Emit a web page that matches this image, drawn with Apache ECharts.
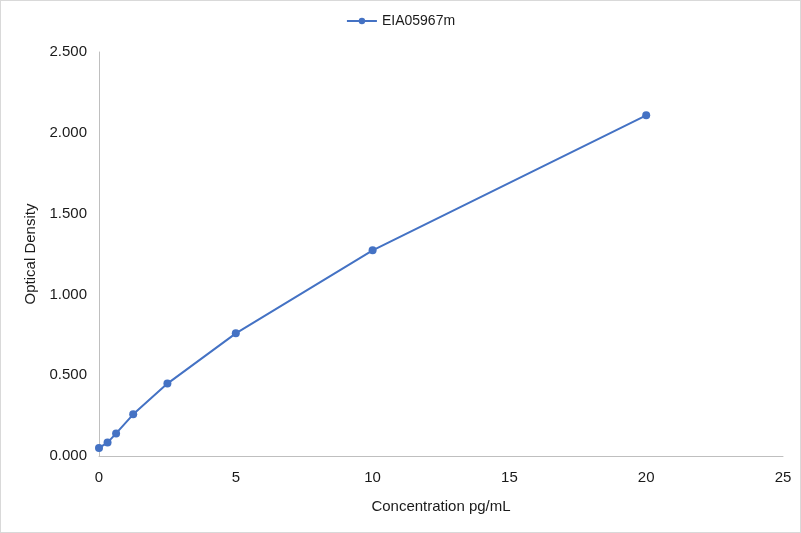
<!DOCTYPE html>
<html>
<head>
<meta charset="utf-8">
<script src="https://cdn.jsdelivr.net/npm/echarts@6/dist/echarts.min.js"></script>
<style>
  html, body { margin: 0; padding: 0; background: #fff; }
  #chart { width: 799px; height: 531px; border: 1px solid #d9d9d9; }
</style>
</head>
<body>
<div id="chart"></div>
<script>
// standard curve readings
var seriesName = "EIA05967m";
var concentration = [0, 0.3125, 0.625, 1.25, 2.5, 5, 10, 20];
var density = [0.050, 0.083, 0.140, 0.258, 0.448, 0.759, 1.273, 2.108];

var points = concentration.map(function (c, i) { return [c, density[i]]; });
var font = "'Liberation Sans', Arial, sans-serif";

var chart = echarts.init(document.getElementById("chart"));
chart.setOption({
    animation: false,
    textStyle: { fontFamily: font },
    legend: {
        top: 8,
        left: "center",
        itemWidth: 30,
        itemHeight: 8,
        textStyle: { fontSize: 14, color: "#1a1a1a", fontFamily: font },
        data: [seriesName]
    },
    grid: { left: 98, right: 17, top: 51, bottom: 76 },
    xAxis: {
        type: "value",
        min: 0, max: 25, interval: 5,
        name: "Concentration pg/mL",
        nameLocation: "middle",
        nameGap: 43,
        nameTextStyle: { fontSize: 15, color: "#1a1a1a", fontFamily: font },
        axisLine: { show: true, lineStyle: { color: "#bfbfbf", width: 1 } },
        axisTick: { show: false },
        splitLine: { show: false },
        axisLabel: { fontSize: 15, color: "#1a1a1a", margin: 14, fontFamily: font }
    },
    yAxis: {
        type: "value",
        min: 0, max: 2.5, interval: 0.5,
        name: "Optical Density",
        nameLocation: "middle",
        nameGap: 61,
        nameTextStyle: { fontSize: 15, color: "#1a1a1a", fontFamily: font },
        axisLine: { show: true, lineStyle: { color: "#bfbfbf", width: 1 } },
        axisTick: { show: false },
        splitLine: { show: false },
        axisLabel: {
            fontSize: 15, color: "#1a1a1a", margin: 12, fontFamily: font,
            formatter: function (v) { return v.toFixed(3); }
        }
    },
    series: [{
        name: seriesName,
        type: "line",
        data: points,
        symbol: "circle",
        symbolSize: 8,
        lineStyle: { color: "#4472c4", width: 2 },
        itemStyle: { color: "#4472c4" }
    }]
});
</script>
</body>
</html>
